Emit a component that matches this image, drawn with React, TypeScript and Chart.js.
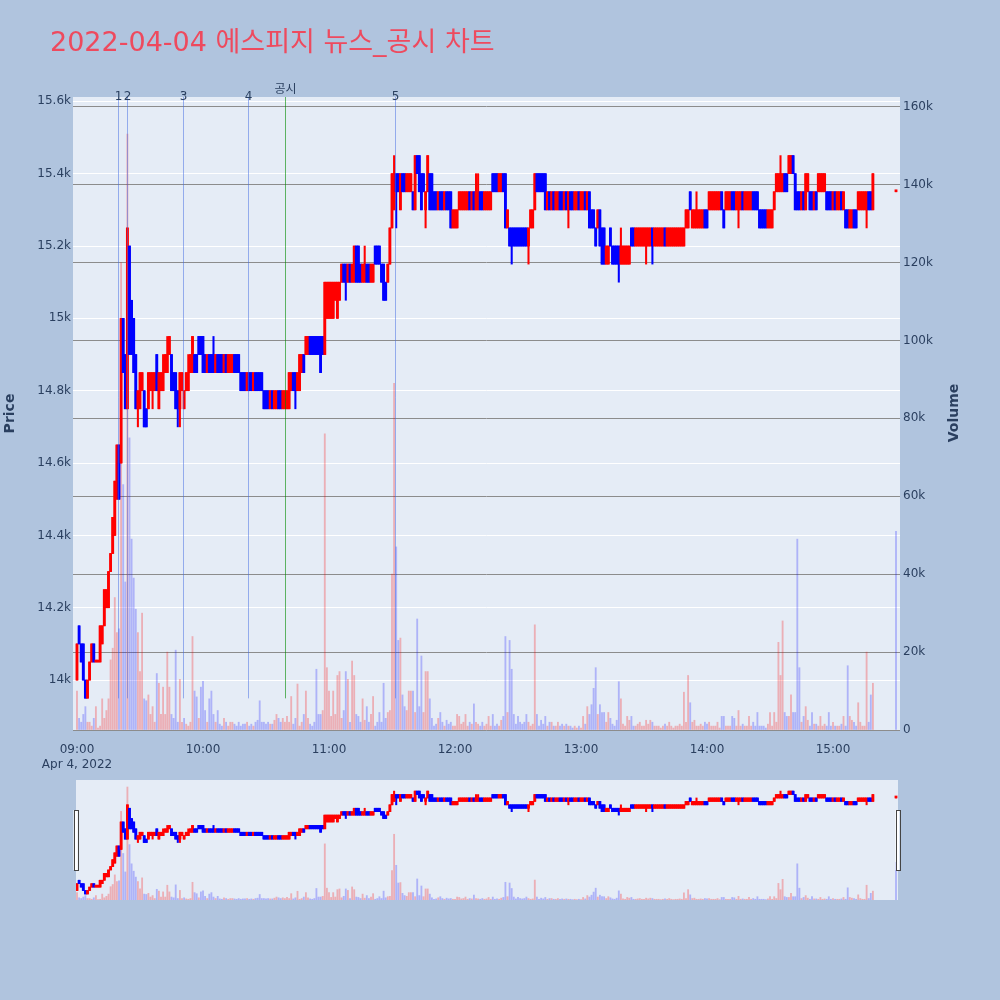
import React, { useEffect, useRef } from 'react';
import { Chart, registerables } from 'chart.js';

Chart.register(...registerables);
Chart.defaults.font.family = '"DejaVu Sans", "Noto Sans CJK KR", sans-serif';

const TITLE = '2022-04-04 에스피지 뉴스_공시 차트';
const DATE_LABEL = 'Apr 4, 2022';

// minute offsets after 09:00 : continuous session 09:00-15:19, closing auction 15:30
const minuteOffsets: number[] = [...Array.from({ length: 380 }, (_, i) => i), 390];

const opens: number[] = [
  14000,14150,14100,14100,14000,13950,14000,14050,14100,14050,
  14050,14050,14100,14150,14200,14200,14300,14350,14400,14500,
  14650,14600,15000,14900,14750,15200,15050,15000,14900,14750,
  14750,14800,14800,14750,14750,14800,14800,14800,14900,14750,
  14800,14800,14850,14850,14900,14900,14850,14850,14800,14750,
  14800,14750,14800,14800,14850,14850,14900,14900,14950,14950,
  14950,14900,14850,14900,14900,14900,14850,14900,14900,14900,
  14850,14900,14850,14850,14850,14900,14900,14900,14850,14850,
  14850,14800,14850,14850,14800,14850,14850,14850,14850,14800,
  14800,14800,14750,14800,14750,14750,14800,14800,14750,14750,
  14750,14750,14800,14850,14850,14800,14800,14850,14900,14900,
  14900,14950,14950,14950,14950,14950,14950,14950,14900,15000,
  15000,15000,15000,15050,15000,15050,15100,15150,15150,15100,
  15150,15100,15100,15200,15200,15150,15100,15100,15150,15150,
  15100,15100,15200,15200,15200,15150,15150,15100,15100,15150,
  15250,15300,15400,15400,15300,15400,15400,15350,15350,15350,
  15350,15300,15450,15450,15400,15400,15300,15350,15400,15400,
  15350,15350,15300,15350,15350,15300,15350,15350,15350,15250,
  15250,15250,15300,15300,15300,15300,15300,15350,15300,15350,
  15300,15300,15350,15350,15300,15300,15300,15300,15400,15400,
  15400,15350,15350,15400,15400,15250,15250,15250,15250,15250,
  15250,15250,15250,15250,15250,15200,15250,15250,15300,15400,
  15400,15400,15400,15400,15300,15350,15300,15350,15300,15300,
  15350,15350,15300,15350,15300,15350,15350,15300,15300,15350,
  15300,15300,15350,15300,15350,15300,15300,15250,15250,15300,
  15250,15250,15150,15150,15250,15200,15200,15200,15200,15150,
  15150,15150,15150,15150,15250,15250,15200,15200,15200,15200,
  15200,15200,15200,15200,15250,15200,15200,15200,15200,15200,
  15250,15200,15200,15200,15200,15200,15200,15200,15200,15200,
  15250,15250,15350,15250,15250,15250,15250,15250,15250,15300,
  15300,15300,15300,15300,15300,15300,15300,15350,15300,15300,
  15300,15300,15350,15350,15300,15300,15300,15350,15300,15300,
  15300,15300,15350,15350,15350,15300,15300,15300,15300,15250,
  15250,15250,15300,15350,15350,15350,15350,15400,15400,15400,
  15400,15450,15400,15350,15350,15300,15350,15300,15350,15350,
  15350,15300,15350,15350,15350,15350,15350,15350,15350,15350,
  15300,15350,15300,15300,15350,15300,15300,15300,15250,15250,
  15300,15300,15300,15300,15300,15300,15300,15350,15350,15300,
  15350,
];

const closes: number[] = [
  14100,14100,14050,14000,13950,14000,14050,14100,14050,14050,
  14050,14150,14150,14250,14250,14300,14350,14450,14550,14650,
  14500,15000,14850,14750,15250,14900,14900,14850,14750,14800,
  14850,14850,14700,14700,14850,14850,14850,14850,14800,14850,
  14850,14850,14900,14900,14950,14800,14800,14750,14750,14850,
  14850,14800,14850,14850,14900,14950,14850,14850,14900,14900,
  14850,14850,14900,14850,14850,14850,14900,14850,14850,14850,
  14900,14850,14900,14900,14900,14850,14850,14850,14800,14800,
  14800,14850,14800,14800,14850,14800,14800,14800,14800,14750,
  14750,14750,14800,14750,14800,14800,14750,14750,14800,14800,
  14800,14850,14850,14800,14800,14850,14900,14900,14850,14950,
  14950,14900,14900,14900,14900,14900,14850,14900,15100,15100,
  15100,15100,15100,15100,15100,15100,15150,15100,15100,15150,
  15100,15150,15200,15100,15100,15100,15150,15150,15100,15100,
  15150,15150,15150,15150,15150,15100,15050,15050,15150,15250,
  15400,15400,15350,15350,15400,15350,15350,15400,15400,15400,
  15300,15450,15400,15350,15300,15350,15350,15450,15300,15300,
  15300,15300,15350,15300,15300,15350,15300,15300,15250,15300,
  15300,15300,15350,15350,15350,15350,15350,15300,15350,15300,
  15350,15350,15300,15300,15350,15350,15350,15350,15350,15350,
  15350,15400,15400,15350,15250,15300,15200,15200,15200,15200,
  15200,15200,15200,15200,15200,15250,15300,15300,15400,15350,
  15350,15350,15350,15300,15350,15300,15350,15300,15350,15350,
  15300,15300,15350,15300,15350,15300,15300,15350,15350,15300,
  15350,15350,15300,15350,15250,15250,15250,15200,15300,15200,
  15150,15150,15200,15200,15200,15150,15150,15150,15150,15200,
  15200,15200,15200,15200,15200,15200,15250,15250,15250,15250,
  15250,15250,15250,15250,15200,15250,15250,15250,15250,15250,
  15200,15250,15250,15250,15250,15250,15250,15250,15250,15250,
  15300,15300,15300,15300,15300,15300,15300,15300,15300,15250,
  15250,15350,15350,15350,15350,15350,15350,15300,15250,15350,
  15350,15350,15300,15300,15350,15350,15350,15300,15350,15350,
  15350,15350,15300,15300,15300,15250,15250,15250,15250,15300,
  15300,15300,15350,15400,15400,15400,15400,15350,15350,15450,
  15450,15400,15300,15300,15300,15350,15300,15400,15400,15300,
  15300,15350,15300,15400,15400,15400,15400,15300,15300,15300,
  15350,15300,15350,15350,15300,15350,15250,15250,15300,15300,
  15250,15250,15350,15350,15350,15350,15350,15300,15300,15400,
  15350,
];

// wicks that reach beyond the body: [minute offset, price]
const upperWicks: [number, number][] = [
  [41, 14900], [43, 14950], [53, 14900], [65, 14950], [137, 15200], [151, 15450],
  [190, 15400], [191, 15400], [259, 15250], [295, 15350], [335, 15450],
];
const lowerWicks: [number, number][] = [
  [29, 14700], [36, 14750], [48, 14700], [49, 14700], [104, 14750], [128, 15050],
  [152, 15250], [166, 15250], [207, 15150], [215, 15150], [234, 15250], [258, 15100],
  [271, 15150], [274, 15150], [315, 15250], [376, 15250],
];

// volume per minute, thousands of shares
const volumesK: number[] = [
  10,3,2,4,6,2,2,1,3,6,
  0.5,1,8,3,5,8,18,21,34,25,
  26,120,63,38,153,75,49,39,31,25,
  15,30,8,7.5,9,4,6,2,14.5,12,
  4,11,4,20,11,4,3,20.5,2,13,
  2,3,1.5,1,2,24,10,8.5,3,11,
  12.5,5,2,8,10,4,2,5,1.5,1,
  3,2,1,2,2,1.5,1,2,1,1.5,
  1.5,2,1,1.5,1,2,2.5,7.5,2,2,
  1.5,2,1.5,1.5,2.5,4,3,2,3,2,
  3.5,2,8.6,1.5,3,11.8,1,2,4,10,
  3,1.5,1,2,15.6,4,4,5,76,16,
  10,3.5,10,4,14,15,3,5,15,13,
  2,17.7,14,4,3.5,2,8,2.5,6,2,
  4,8.6,1,2,4.5,2,12,3,4.5,5,
  40,89,47,23,23.6,9,6,5,10,10,
  10,4.5,28.5,6,19,4.5,15,15,8,3,
  1,1.5,3,4.5,2,1,2.5,1.5,2,1,
  1,4,3.5,1.5,2,4,1,2,1.5,6.7,
  2,1.5,1,2,1,1.5,3.5,1,4,1,
  1.5,1,2.5,3.5,24,4.5,23,15.6,4,1.5,
  3.5,2,1.5,2,4,2,1,1.5,27,4,
  1,2.5,1.5,3.5,1,2,2,1,1,2,
  1,1.5,1,1.5,1,1,0.5,1,0.5,1,
  0.5,3.5,1.5,6,4,6.5,10.7,16,4,6.5,
  4.5,4.5,2,4.5,3,1.5,1,2.5,12.4,8,
  1.5,1,3.5,2.5,3.5,1,1,1.5,2,1,
  1,2.5,1.5,2.5,2,1,1,1,0.5,1,
  1.5,1,2,1,0.5,1,1,1.5,1,9.7,
  2,14,7,2,2.5,1,1,1.5,1,2,
  1.5,2,1,1,1,2,0.5,3.5,3.5,1,
  1,1,3.5,3,1,5,1,1.5,1,1,
  3.5,1,2,1,4.5,1,1,1,0.5,1.5,
  4.5,1,4.5,2,22.5,14,28,4.5,3.5,3.5,
  9,4.5,4.5,49,16,2,3.5,6,2.5,1,
  4.5,1.5,1.5,1,3.5,1,1.5,1,4.5,1,
  2,1,1,1,1.5,3.5,1,16.5,3.5,2.5,
  2,1,7,2,1,1,20,2,9,12,
  51,
];

const xTickMinutes: number[] = [0, 60, 120, 180, 240, 300, 360];
const xTickLabels: string[] = ['09:00', '10:00', '11:00', '12:00', '13:00', '14:00', '15:00'];
const priceTicks: number[] = [14000, 14200, 14400, 14600, 14800, 15000, 15200, 15400, 15600];
const volumeTicksK: number[] = [0, 20, 40, 60, 80, 100, 120, 140, 160];

const markerLabels: string[] = ['1', '2', '3', '4', '공시', '5'];
const markerTimes: string[] = ['09:19:40', '09:24:00', '09:50:35', '10:21:35', '10:39:00', '11:31:35'];
const markerKinds: string[] = ['news', 'news', 'news', 'news', 'disclosure', 'news'];

const PAGE_BG = '#b0c4de';
const PLOT_BG = '#e5ecf6';
const INK = '#2a3f5f';
const UP = '#ff0000';
const DOWN = '#0000ff';
const UP_VOL = 'rgba(255,0,0,0.26)';
const DOWN_VOL = 'rgba(0,0,255,0.24)';

const PRICE_MIN = 13862;
const PRICE_MAX = 15612;
const VOL_MAX = 162.5;

const timeToMinute = (t: string) => {
  const [h, m, s] = t.split(':').map(Number);
  return (h - 9) * 60 + m + s / 60;
};

const highs = opens.map((o, i) => {
  const w = upperWicks.find((e) => e[0] === minuteOffsets[i]);
  return Math.max(o, closes[i], w ? w[1] : -Infinity);
});
const lows = opens.map((o, i) => {
  const w = lowerWicks.find((e) => e[0] === minuteOffsets[i]);
  return Math.min(o, closes[i], w ? w[1] : Infinity);
});
const candleColors = opens.map((o, i) => (closes[i] >= o ? UP : DOWN));
const volumeColors = closes.map((c, i) => {
  const prev = i > 0 ? closes[i - 1] : opens[0];
  const up = c === prev ? c >= opens[i] : c > prev;
  return up ? UP_VOL : DOWN_VOL;
});

function makeDatasets(bodyW: number, wickW: number, volW: number): any[] {
  return [
    {
      label: 'body',
      yAxisID: 'y',
      order: 0,
      grouped: false,
      data: minuteOffsets.map((m, i) => ({ x: m, y: [opens[i], closes[i]] })),
      backgroundColor: candleColors,
      borderWidth: 0,
      barThickness: bodyW,
      minBarLength: 2,
    },
    {
      label: 'wick',
      yAxisID: 'y',
      order: 1,
      grouped: false,
      data: minuteOffsets.map((m, i) => ({ x: m, y: [lows[i], highs[i]] })),
      backgroundColor: candleColors,
      borderWidth: 0,
      barThickness: wickW,
    },
    {
      label: 'volume',
      yAxisID: 'yVol',
      order: 2,
      grouped: false,
      data: minuteOffsets.map((m, i) => ({ x: m, y: volumesK[i] })),
      backgroundColor: volumeColors,
      borderWidth: 0,
      barThickness: volW,
    },
  ];
}

const mainDecor = {
  id: 'mainDecor',
  beforeDraw(chart: any) {
    const { ctx, chartArea: a } = chart;
    ctx.save();
    ctx.fillStyle = PLOT_BG;
    ctx.fillRect(a.left, a.top, a.right - a.left, a.bottom - a.top);
    ctx.restore();
  },
  afterDatasetsDraw(chart: any) {
    const { ctx, chartArea: a, scales } = chart;
    const bottom = a.bottom - 0.05 * (a.bottom - a.top);
    ctx.save();
    markerTimes.forEach((t, i) => {
      const x = Math.round(scales.x.getPixelForValue(timeToMinute(t))) + 0.5;
      ctx.strokeStyle = markerKinds[i] === 'disclosure' ? 'rgba(0,140,0,0.6)' : 'rgba(65,105,225,0.5)';
      ctx.lineWidth = 1;
      ctx.beginPath();
      ctx.moveTo(x, a.top);
      ctx.lineTo(x, bottom);
      ctx.stroke();
      ctx.fillStyle = INK;
      ctx.font = '12px "DejaVu Sans", "Noto Sans CJK KR", sans-serif';
      ctx.textAlign = 'center';
      ctx.textBaseline = 'middle';
      const y = markerKinds[i] === 'disclosure' ? a.top - 7 : a.top - 0.5;
      ctx.fillText(markerLabels[i], x, y);
    });
    ctx.restore();
  },
  afterDraw(chart: any) {
    const { ctx } = chart;
    ctx.save();
    ctx.fillStyle = '#ee4a5e';
    ctx.font = '27px "DejaVu Sans", "Noto Sans CJK KR", sans-serif';
    ctx.textAlign = 'left';
    ctx.textBaseline = 'alphabetic';
    ctx.fillText(TITLE, 50, 51);
    ctx.translate(954, 413);
    ctx.rotate(-Math.PI / 2);
    ctx.fillStyle = INK;
    ctx.font = 'bold 14px "DejaVu Sans", sans-serif';
    ctx.textAlign = 'center';
    ctx.textBaseline = 'middle';
    ctx.fillText('Volume', 0, 0);
    ctx.restore();
  },
};

const sliderDecor = {
  id: 'sliderDecor',
  beforeDraw(chart: any) {
    const { ctx, chartArea: a } = chart;
    ctx.save();
    ctx.fillStyle = PLOT_BG;
    ctx.fillRect(a.left, a.top, a.right - a.left, a.bottom - a.top);
    ctx.restore();
  },
  afterDraw(chart: any) {
    const { ctx, chartArea: a } = chart;
    ctx.save();
    ctx.fillStyle = '#ffffff';
    ctx.strokeStyle = '#444444';
    ctx.lineWidth = 1;
    const hy = a.top + 30;
    const hh = 60;
    [a.left - 2.5, a.right - 2.5].forEach((hx) => {
      ctx.fillRect(hx, hy, 4, hh);
      ctx.strokeRect(Math.round(hx) + 0.5, hy + 0.5, 4, hh);
    });
    ctx.restore();
  },
};

function mainConfig(): any {
  return {
    type: 'bar',
    data: { datasets: makeDatasets(2.2, 1.4, 1.2) },
    options: {
      animation: false,
      responsive: false,
      devicePixelRatio: 1,
      events: [],
      layout: { padding: { top: 97, left: 0, right: 35, bottom: 0 } },
      plugins: { legend: { display: false }, tooltip: { enabled: false }, title: { display: false } },
      scales: {
        x: {
          type: 'linear',
          min: -1.9,
          max: 391.9,
          offset: false,
          grid: { display: false, offset: false },
          border: { display: false },
          afterBuildTicks: (s: any) => {
            s.ticks = xTickMinutes.map((v) => ({ value: v }));
          },
          afterFit: (s: any) => {
            s.height = 40;
          },
          ticks: {
            autoSkip: false,
            maxRotation: 0,
            padding: 5,
            color: INK,
            font: { size: 12 },
            callback: (_v: any, i: number) => (i === 0 ? [xTickLabels[0], DATE_LABEL] : xTickLabels[i]),
          },
        },
        y: {
          type: 'linear',
          position: 'left',
          min: PRICE_MIN,
          max: PRICE_MAX,
          grid: { color: '#ffffff', lineWidth: 1, drawTicks: false },
          border: { display: false },
          afterBuildTicks: (s: any) => {
            s.ticks = priceTicks.map((v) => ({ value: v }));
          },
          afterFit: (s: any) => {
            s.width = 73;
          },
          ticks: {
            padding: 2,
            color: INK,
            font: { size: 12 },
            callback: (v: any) => `${Number(v) / 1000}k`,
          },
          title: {
            display: true,
            text: 'Price',
            color: INK,
            font: { size: 14, weight: 'bold' },
            padding: { top: 2, bottom: 0 },
          },
        },
        yVol: {
          type: 'linear',
          position: 'right',
          min: 0,
          max: VOL_MAX,
          grid: { color: '#8c8c8c', lineWidth: 1, drawTicks: false },
          border: { display: false },
          afterBuildTicks: (s: any) => {
            s.ticks = volumeTicksK.map((v) => ({ value: v }));
          },
          afterFit: (s: any) => {
            s.width = 65;
          },
          ticks: {
            padding: 3,
            color: INK,
            font: { size: 12 },
            callback: (v: any) => (Number(v) === 0 ? '0' : `${v}k`),
          },
        },
      },
    },
    plugins: [mainDecor],
  };
}

function sliderConfig(): any {
  return {
    type: 'bar',
    data: { datasets: makeDatasets(2.2, 1.4, 1.2) },
    options: {
      animation: false,
      responsive: false,
      devicePixelRatio: 1,
      events: [],
      layout: { padding: { top: 5, left: 8, right: 6, bottom: 5 } },
      plugins: { legend: { display: false }, tooltip: { enabled: false } },
      scales: {
        x: { type: 'linear', display: false, min: -0.48, max: 390.95, offset: false, grid: { offset: false } },
        y: { type: 'linear', display: false, min: PRICE_MIN, max: PRICE_MAX },
        yVol: { type: 'linear', display: false, min: 0, max: VOL_MAX },
      },
    },
    plugins: [sliderDecor],
  };
}

export default function App() {
  const mainRef = useRef<HTMLCanvasElement>(null);
  const sliderRef = useRef<HTMLCanvasElement>(null);

  useEffect(() => {
    const main = new Chart(mainRef.current as HTMLCanvasElement, mainConfig());
    const slider = new Chart(sliderRef.current as HTMLCanvasElement, sliderConfig());
    return () => {
      main.destroy();
      slider.destroy();
    };
  }, []);

  return (
    <div
      style={{
        position: 'absolute',
        left: 0,
        top: 0,
        width: 1000,
        height: 1000,
        background: PAGE_BG,
        overflow: 'hidden',
      }}
    >
      <canvas
        ref={mainRef}
        width={1000}
        height={770}
        style={{ position: 'absolute', left: 0, top: 0, width: 1000, height: 770 }}
      />
      <canvas
        ref={sliderRef}
        width={836}
        height={130}
        style={{ position: 'absolute', left: 68, top: 775, width: 836, height: 130 }}
      />
    </div>
  );
}
